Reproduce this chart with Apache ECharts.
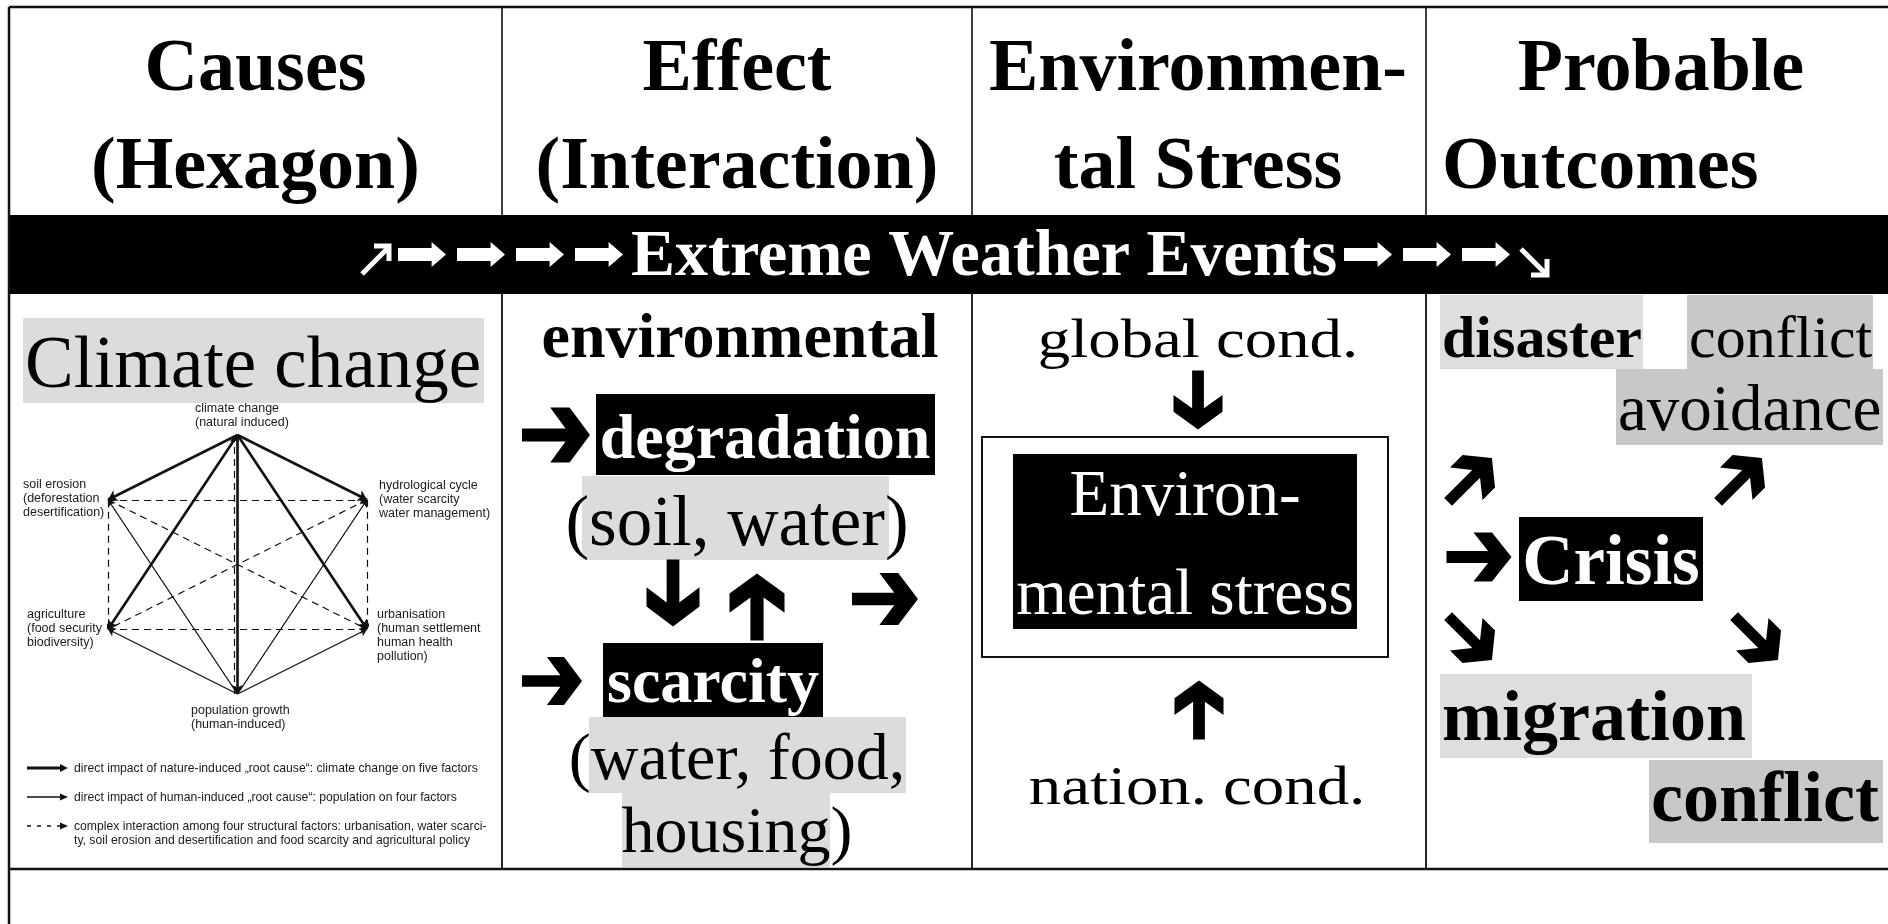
<!DOCTYPE html>
<html><head><meta charset="utf-8">
<script src="https://cdn.jsdelivr.net/npm/echarts@6/dist/echarts.min.js"></script>
<style>html,body{margin:0;padding:0;background:#fff}#c{width:1888px;height:924px}</style>
</head><body><div id="c"></div>
<script>
// ---------- content (data) ----------
const columnHeaders = [["Causes", "(Hexagon)"], ["Effect", "(Interaction)"], ["Environmen-", "tal Stress"], ["Probable", "Outcomes"]];
const bannerText = "Extreme Weather Events";
const causeTitle = "Climate change";
const hexNodes = ["climate change", "hydrological cycle", "urbanisation", "population growth", "agriculture", "soil erosion"];
const hexLabels = [
  "climate change\n(natural induced)",
  "hydrological cycle\n(water scarcity\nwater management)",
  "urbanisation\n(human settlement\nhuman health\npollution)",
  "population growth\n(human-induced)",
  "agriculture\n(food security\nbiodiversity)",
  "soil erosion\n(deforestation\ndesertification)"
];
const hexLinks = [
  ["climate change", "soil erosion", "nature"], ["climate change", "hydrological cycle", "nature"],
  ["climate change", "agriculture", "nature"], ["climate change", "urbanisation", "nature"],
  ["climate change", "population growth", "nature"],
  ["population growth", "soil erosion", "human"], ["population growth", "hydrological cycle", "human"],
  ["population growth", "agriculture", "human"], ["population growth", "urbanisation", "human"],
  ["soil erosion", "hydrological cycle", "complex"], ["agriculture", "urbanisation", "complex"],
  ["soil erosion", "agriculture", "complex"], ["hydrological cycle", "urbanisation", "complex"],
  ["soil erosion", "urbanisation", "complex"], ["hydrological cycle", "agriculture", "complex"],
  ["population growth", "climate change", "complex"]
];
const legendTexts = [
  "direct impact of nature-induced \u201Eroot cause\u201C: climate change on five factors",
  "direct impact of human-induced \u201Eroot cause\u201C: population on four factors",
  "complex interaction among four structural factors: urbanisation, water scarci-\nty, soil erosion and desertification and food scarcity and agricultural policy"
];
const effectTexts = ["environmental", "degradation", "(soil, water)", "scarcity", "(water, food,", "housing)"];
const stressTexts = ["global cond.", "Environ-\nmental stress", "nation. cond."];
const outcomeTexts = ["disaster", "conflict", "avoidance", "Crisis", "migration", "conflict"];

// ---------- helpers ----------
const SERIF = '"Liberation Serif","Times New Roman",serif';
const SANS = '"Liberation Sans",Arial,sans-serif';
const DY = 5;
const els = [];
function L(x1, y1, x2, y2, w, opt) {
  opt = opt || {};
  els.push({type: 'line', silent: true, z: opt.z || 5, shape: {x1, y1, x2, y2},
    style: {stroke: opt.color || '#111', lineWidth: w, lineDash: opt.dash || null, lineCap: opt.cap || 'butt'}});
}
function R(x0, y0, x1, y1, fill, opt) {
  opt = opt || {};
  els.push({type: 'rect', silent: true, z: opt.z || 2, shape: {x: x0, y: y0, width: x1 - x0, height: y1 - y0},
    style: {fill: fill, stroke: opt.stroke || null, lineWidth: opt.lw || 0}});
}
function T(text, x, y, size, opt) {
  opt = opt || {};
  const font = opt.font || SERIF;
  els.push({type: 'text', silent: true, z: opt.z || 10, x: x, y: y + (font === SERIF ? DY : 0), scaleX: opt.sx || 1,
    style: {text: text, fill: opt.color || '#000', fontSize: size, fontWeight: opt.bold ? 'bold' : 'normal',
      fontFamily: font, align: opt.align || 'center', verticalAlign: opt.va || 'middle',
      lineHeight: opt.lh || undefined}});
}
const CHEVRON = [[-0.5,-0.12],[0.14,-0.12],[-0.085,-0.5],[0.2,-0.5],[0.5,0],[0.2,0.5],[-0.085,0.5],[0.14,0.12],[-0.5,0.12]];
const BLOCK = [[-0.5,-0.26],[0.2,-0.26],[0.2,-0.5],[0.5,0],[0.2,0.5],[0.2,0.26],[-0.5,0.26]];
const TRI = [[-0.5,-0.5],[0.5,0],[-0.5,0.5]];
function ARROW(shape, cx, cy, len, hgt, ang, color) {
  const a = ang * Math.PI / 180, c = Math.cos(a), s = Math.sin(a);
  const pts = shape.map(function (p) { const px = p[0] * len, py = p[1] * hgt; return [cx + px * c - py * s, cy + px * s + py * c]; });
  els.push({type: 'polygon', silent: true, z: 8, shape: {points: pts}, style: {fill: color || '#000'}});
}
function PL(points, w, color) {
  els.push({type: 'polyline', silent: true, z: 8, shape: {points: points}, style: {stroke: color, lineWidth: w, fill: null, lineJoin: 'miter'}});
}

// ---------- frame ----------
R(9, 215, 1888, 294, '#000', {z: 3});
L(9, 7, 1888, 7, 2.5);
L(9, 7, 9, 924, 2.5);
L(9, 869, 1888, 869, 2.5);
[502, 972, 1426].forEach(function (x) { L(x, 7, x, 215, 1.6); L(x, 294, x, 869, 1.8); });

// ---------- headers ----------
const hdrX = [255.5, 737, 1198, 1661];
columnHeaders.forEach(function (h, i) {
  T(h[0], hdrX[i], 66, 74, {bold: true});
  if (i === 3) T(h[1], 1442, 164, 74, {bold: true, align: 'left'});
  else T(h[1], hdrX[i], 164, 74, {bold: true});
});

// ---------- banner ----------
T(bannerText, 631, 253, 66, {bold: true, color: '#fff', align: 'left'});
PL([[362, 274], [388, 248]], 5, '#fff');
PL([[374, 246], [389, 246], [389, 261]], 5, '#fff');
[422, 481, 540, 599, 1368, 1427, 1486].forEach(function (x) { ARROW(BLOCK, x, 254.5, 48, 25, 0, '#fff'); });
PL([[1521, 249], [1546, 274]], 5, '#fff');
PL([[1547, 259], [1547, 275], [1531, 275]], 5, '#fff');

// ---------- column 1 : causes ----------
R(23, 318, 484, 403, '#dcdcdc');
T(causeTitle, 25, 363, 73, {align: 'left'});
const hexLabelPos = [[195, 402], [379, 479], [377, 608], [191, 704], [27, 608], [23, 478]];
hexLabels.forEach(function (t, i) {
  T(t, hexLabelPos[i][0], hexLabelPos[i][1], 12.5, {font: SANS, align: 'left', va: 'top', lh: 14, color: '#1a1a1a'});
});
// legend
const legY = [768, 797, 826];
legendTexts.forEach(function (t, i) {
  T(t, 74, legY[i] - 7, 12.2, {font: SANS, align: 'left', va: 'top', lh: 14.5, color: '#1a1a1a'});
});
L(27, 768, 62, 768, 3);
ARROW(TRI, 64, 768, 8, 8, 0, '#111');
L(27, 797, 62, 797, 1.3);
ARROW(TRI, 64, 797, 8, 7, 0, '#111');
L(27, 826, 62, 826, 1.3, {dash: [4, 6]});
ARROW(TRI, 64, 826, 8, 7, 0, '#111');

// ---------- column 2 : effect ----------
T(effectTexts[0], 740, 335, 64, {bold: true});
ARROW(CHEVRON, 556, 435, 68, 55, 0);
R(596, 394, 935, 475, '#000');
T(effectTexts[1], 765, 436, 64, {bold: true, color: '#fff'});
R(582, 476, 889, 560, '#dcdcdc');
T(effectTexts[2], 737, 521, 71);
ARROW(CHEVRON, 673, 593, 67, 53, 90);
ARROW(CHEVRON, 757, 607, 67, 55, -90);
ARROW(CHEVRON, 885, 599, 66, 52, 0);
ARROW(CHEVRON, 552, 681, 60, 48, 0);
R(603, 643, 823, 717, '#000');
T(effectTexts[3], 713, 680, 64, {bold: true, color: '#fff'});
R(589, 717, 906, 793, '#dcdcdc');
T(effectTexts[4], 737, 757, 66);
R(622, 793, 830, 867, '#dcdcdc');
T(effectTexts[5], 737, 830, 66);

// ---------- column 3 : environmental stress ----------
T(stressTexts[0], 1198, 338, 54, {sx: 1.2});
ARROW(CHEVRON, 1198, 400, 59, 49, 90);
R(982, 437, 1388, 657, '#fff', {stroke: '#111', lw: 2});
R(1013, 454, 1357, 629, '#000', {z: 3});
T(stressTexts[1], 1185, 542, 65, {color: '#fff', lh: 99});
ARROW(CHEVRON, 1199, 710, 59, 49, -90);
T(stressTexts[2], 1197, 785, 54, {sx: 1.2});

// ---------- column 4 : outcomes ----------
R(1440, 295, 1643, 369, '#dedede');
T(outcomeTexts[0], 1442, 336, 60, {bold: true, align: 'left'});
R(1687, 295, 1873, 369, '#c8c8c8');
T(outcomeTexts[1], 1689, 336, 60, {align: 'left'});
R(1616, 369, 1883, 445, '#c8c8c8');
T(outcomeTexts[2], 1618, 408, 65, {align: 'left'});
ARROW(CHEVRON, 1470, 480, 62, 46, -45);
ARROW(CHEVRON, 1740, 480, 62, 46, -45);
ARROW(CHEVRON, 1479, 557, 65, 49, 0);
R(1519, 517, 1703, 601, '#000');
T(outcomeTexts[3], 1611, 561, 71, {bold: true, color: '#fff'});
ARROW(CHEVRON, 1470, 638, 62, 46, 45);
ARROW(CHEVRON, 1756, 638, 62, 46, 45);
R(1440, 674, 1752, 758, '#dedede');
T(outcomeTexts[4], 1442, 716, 72, {bold: true, align: 'left'});
R(1649, 760, 1883, 843, '#c8c8c8');
T(outcomeTexts[5], 1651, 797, 72, {bold: true, align: 'left'});

// ---------- hexagon (lines on a hidden cartesian grid) ----------
const hexPos = {};
hexNodes.forEach(function (n, i) {
  const a = (90 - 60 * i) * Math.PI / 180;
  hexPos[n] = [Math.round(Math.cos(a) * 1e6) / 1e6, Math.round(Math.sin(a) * 1e6) / 1e6];
});
const xs = hexNodes.map(function (n) { return hexPos[n][0]; });
const ys = hexNodes.map(function (n) { return hexPos[n][1]; });
function coordsOf(l, kind) {
  const s = hexPos[l[0]].slice(), t = hexPos[l[1]].slice();
  if (kind === 'complex' && s[0] === t[0] && Math.abs(s[1] - t[1]) > 1.5) { s[0] -= 0.02; t[0] -= 0.02; }
  return [s, t];
}
const linkKinds = {
  nature: {width: 2.6, size: 9},
  human: {width: 1.3, size: 7},
  complex: {width: 1.2, size: 7, dash: [7, 5]}
};
const lineSeries = Object.keys(linkKinds).map(function (k) {
  const st = linkKinds[k];
  return {
    type: 'lines', coordinateSystem: 'cartesian2d', silent: true, z: 6,
    symbol: ['none', 'arrow'], symbolSize: [0, st.size],
    lineStyle: {color: '#111', width: st.width, type: st.dash || 'solid', opacity: 1, curveness: 0},
    data: hexLinks.filter(function (l) { return l[2] === k; }).map(function (l) { return {coords: coordsOf(l, k)}; })
  };
});

const chart = echarts.init(document.getElementById('c'), null, {renderer: 'canvas'});
chart.setOption({
  animation: false,
  backgroundColor: '#fff',
  grid: {left: 108, top: 435, width: 259, height: 259, show: false},
  xAxis: {type: 'value', show: false, min: Math.min.apply(null, xs), max: Math.max.apply(null, xs)},
  yAxis: {type: 'value', show: false, min: Math.min.apply(null, ys), max: Math.max.apply(null, ys)},
  series: lineSeries,
  graphic: {elements: els}
});
</script>
</body></html>
